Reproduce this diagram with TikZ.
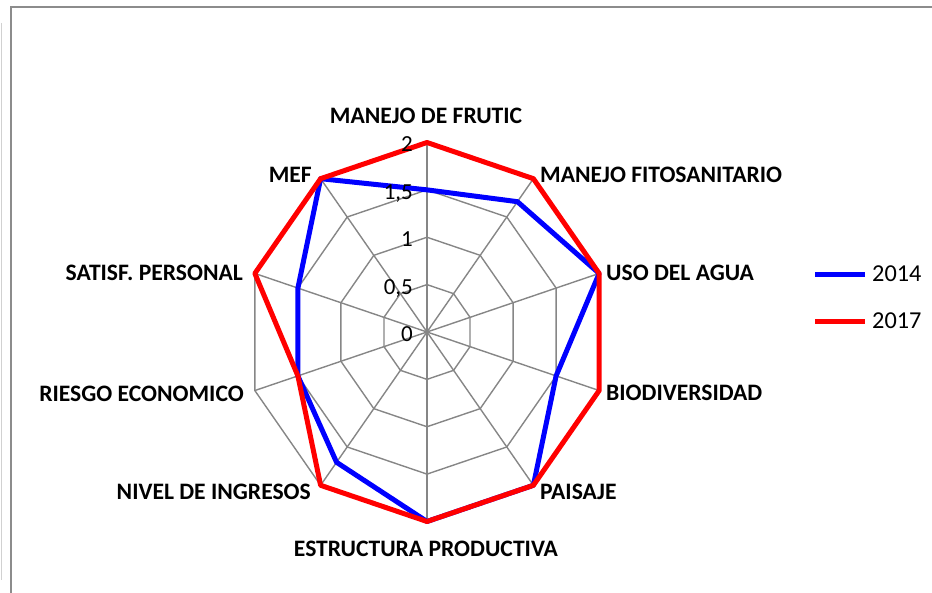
\documentclass[tikz,border=0pt]{standalone}
\usepackage{fontspec}
\setmainfont{Carlito}

\definecolor{webgray}{RGB}{134,134,134}
\definecolor{framegray}{RGB}{140,140,140}
\definecolor{line2014}{RGB}{0,0,255}
\definecolor{line2017}{RGB}{255,0,0}

\tikzstyle{axislabel}=[inner sep=0pt, font=\bfseries\fontsize{23.6}{26}\selectfont]
\tikzstyle{ticklabel}=[inner sep=0pt, anchor=base east, font=\fontsize{23}{26}\selectfont]
\tikzstyle{legendtext}=[inner sep=0pt, anchor=base west, font=\fontsize{24.3}{27}\selectfont]
\tikzstyle{web}=[draw=webgray, line width=1.4pt]
\tikzstyle{series}=[line width=5pt, line join=round]
\tikzstyle{frame}=[draw=framegray, line width=2pt]

\begin{document}
\begin{tikzpicture}[x=1pt, y=1pt]
  \useasboundingbox (0,0) rectangle (932,593);

  %%%%%%%%%%%%%%%%%%%%%%%%%%%%%%
  % frame
  \draw[frame] (932,586) -- (11,586) -- (11,0);
  \draw[draw=black!18, line width=1pt] (1,570) -- (1,13);

  %%%%%%%%%%%%%%%%%%%%%%%%%%%%%%
  %%%%%%%%%%%%%%%%%%%%%%%%%%%%%%
  % radar
  \begin{scope}[shift={(427,261)}, xscale=90.5, yscale=94.75]

  %%%%%%%%%%%%%%%%%%%%%%%%%%%%%%
  % web
  \draw[web] (90:0.5) -- (54:0.5) -- (18:0.5) -- (-18:0.5) -- (-54:0.5) -- (-90:0.5) -- (-126:0.5) -- (-162:0.5) -- (162:0.5) -- (126:0.5) -- cycle;
  \draw[web] (90:1) -- (54:1) -- (18:1) -- (-18:1) -- (-54:1) -- (-90:1) -- (-126:1) -- (-162:1) -- (162:1) -- (126:1) -- cycle;
  \draw[web] (90:1.5) -- (54:1.5) -- (18:1.5) -- (-18:1.5) -- (-54:1.5) -- (-90:1.5) -- (-126:1.5) -- (-162:1.5) -- (162:1.5) -- (126:1.5) -- cycle;
  \draw[web] (90:2) -- (54:2) -- (18:2) -- (-18:2) -- (-54:2) -- (-90:2) -- (-126:2) -- (-162:2) -- (162:2) -- (126:2) -- cycle;

  % spokes
  \draw[web] (90:2) -- (-90:2);
  \draw[web] (54:2) -- (-126:2);
  \draw[web] (18:2) -- (-162:2);
  \draw[web] (-18:2) -- (162:2);
  \draw[web] (-54:2) -- (126:2);

  %%%%%%%%%%%%%%%%%%%%%%%%%%%%%%
  % series
  \draw[series, line2014] (90:1.5) -- (54:1.7) -- (18:2) -- (-18:1.5) -- (-54:2) -- (-90:2) -- (-126:1.7) -- (-162:1.5) -- (162:1.5) -- (126:2) -- cycle;

  \draw[series, line2017] (90:2) -- (54:2) -- (18:2) -- (-18:2) -- (-54:2) -- (-90:2) -- (-126:2) -- (-162:1.5) -- (162:2) -- (126:2) -- cycle;

  \end{scope}

  %%%%%%%%%%%%%%%%%%%%%%%%%%%%%%
  % scale
  \node (tick0) at (413,251.5) [ticklabel] {0};
  \node (tick05) at (413,298.9) [ticklabel] {0,5};
  \node (tick1) at (413,346.3) [ticklabel] {1};
  \node (tick15) at (413,393.6) [ticklabel] {1,5};
  \node (tick2) at (413,441) [ticklabel] {2};

  %%%%%%%%%%%%%%%%%%%%%%%%%%%%%%
  % axis labels
  \node (frutic) at (426,469) [axislabel, anchor=base] {MANEJO DE FRUTIC};
  \node (fito) at (540,410.5) [axislabel, anchor=base west] {MANEJO FITOSANITARIO};
  \node (agua) at (606,312.5) [axislabel, anchor=base west] {USO DEL AGUA};
  \node (biodiv) at (606,192.5) [axislabel, anchor=base west] {BIODIVERSIDAD};
  \node (paisaje) at (540,93.5) [axislabel, anchor=base west] {PAISAJE};
  \node (estructura) at (426,36.5) [axislabel, anchor=base] {ESTRUCTURA PRODUCTIVA};
  \node (ingresos) at (311,93.5) [axislabel, anchor=base east] {NIVEL DE INGRESOS};
  \node (riesgo) at (244,191.5) [axislabel, anchor=base east] {RIESGO ECONOMICO};
  \node (satisf) at (243,312.5) [axislabel, anchor=base east] {SATISF. PERSONAL};
  \node (mef) at (312,410.5) [axislabel, anchor=base east] {MEF};

  %%%%%%%%%%%%%%%%%%%%%%%%%%%%%%
  % legend
  \draw[series, line2014] (815,318) -- (865,318);
  \draw[series, line2017] (815,271.3) -- (865,271.3);
  \node (leg_2014) at (872,311) [legendtext] {2014};
  \node (leg_2017) at (872,264) [legendtext] {2017};

\end{tikzpicture}
\end{document}
